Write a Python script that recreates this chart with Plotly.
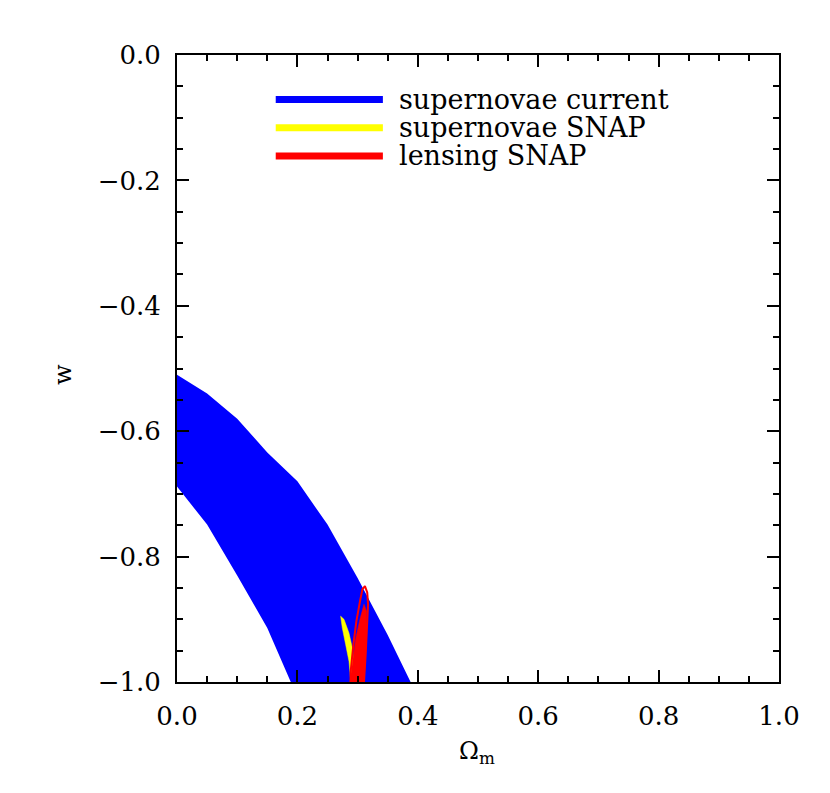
import plotly.graph_objects as go

# Blue band: supernovae current (upper edge then lower edge back)
blue_upper_x = [0.0, 0.05, 0.10, 0.119, 0.15, 0.20, 0.25, 0.30, 0.35, 0.388]
blue_upper_w = [-0.51, -0.54, -0.58, -0.600, -0.634, -0.680, -0.749, -0.834, -0.925, -1.0]
blue_lower_x = [0.189, 0.15, 0.10, 0.05, 0.0]
blue_lower_w = [-1.0, -0.914, -0.830, -0.749, -0.688]

# Yellow: supernovae SNAP
yellow_x = [0.2718, 0.2746, 0.2801, 0.2857, 0.2884, 0.2895, 0.298, 0.2945, 0.2913, 0.2857, 0.2774, 0.2718]
yellow_w = [-0.895, -0.914, -0.940, -0.967, -0.996, -1.0, -1.0, -0.975, -0.946, -0.922, -0.900, -0.895]

# Red: lensing SNAP (filled inner contour)
red_fill_x = [0.3106, 0.304, 0.2968, 0.2913, 0.2873, 0.3106, 0.3122, 0.315, 0.315, 0.3106]
red_fill_w = [-0.876, -0.8995, -0.931, -0.968, -1.0, -1.0, -0.968, -0.924, -0.887, -0.876]

# Red outer contour (outline)
red_line_x = [0.2884, 0.2884, 0.293, 0.298, 0.304, 0.308, 0.3122, 0.316, 0.3174, 0.316, 0.3134, 0.3106]
red_line_w = [-1.0, -0.984, -0.940, -0.903, -0.871, -0.852, -0.847, -0.857, -0.876, -0.914, -0.956, -1.0]

legend_labels = ["supernovae current", "supernovae SNAP", "lensing SNAP"]
legend_colors = ["#0000ff", "#ffff00", "#ff0000"]

x_ticks = [0.0, 0.2, 0.4, 0.6, 0.8, 1.0]
x_ticktext = ["0.0", "0.2", "0.4", "0.6", "0.8", "1.0"]
y_ticks = [0.0, -0.2, -0.4, -0.6, -0.8, -1.0]
y_ticktext = ["0.0", "\u22120.2", "\u22120.4", "\u22120.6", "\u22120.8", "\u22121.0"]

fig = go.Figure()
fig.add_trace(go.Scatter(x=blue_upper_x + blue_lower_x, y=blue_upper_w + blue_lower_w,
                         fill="toself", fillcolor="#0000ff", mode="lines",
                         line=dict(color="#0000ff", width=0), hoverinfo="skip", showlegend=False))
fig.add_trace(go.Scatter(x=yellow_x, y=yellow_w, fill="toself", fillcolor="#ffff00", mode="lines",
                         line=dict(color="#ffff00", width=0.5), hoverinfo="skip", showlegend=False))
fig.add_trace(go.Scatter(x=red_fill_x, y=red_fill_w, fill="toself", fillcolor="#ff0000", mode="lines",
                         line=dict(color="#ff0000", width=0.5), hoverinfo="skip", showlegend=False))
fig.add_trace(go.Scatter(x=red_line_x, y=red_line_w, mode="lines",
                         line=dict(color="#ff0000", width=2), hoverinfo="skip", showlegend=False))

FONT = "DejaVu Serif"
# legend drawn as shapes + annotations in paper coords
leg_y = [0.929, 0.884, 0.839]
for lab, col, yy in zip(legend_labels, legend_colors, leg_y):
    fig.add_shape(type="line", xref="paper", yref="paper", x0=0.164, x1=0.342, y0=yy, y1=yy,
                  line=dict(color=col, width=7))
    fig.add_annotation(xref="paper", yref="paper", x=0.366, y=yy, text=lab, showarrow=False,
                       xanchor="left", yanchor="middle", font=dict(family=FONT, size=27, color="black"))

fig.add_annotation(xref="paper", yref="paper", x=0.498, y=-0.113, text="\u03a9<sub>m</sub>",
                   showarrow=False, xanchor="center", yanchor="middle",
                   font=dict(family=FONT, size=24, color="black"))
fig.add_annotation(xref="paper", yref="paper", x=-0.189, y=0.49, text="w", textangle=-90,
                   showarrow=False, xanchor="center", yanchor="middle",
                   font=dict(family=FONT, size=24, color="black"))

axis_common = dict(showgrid=False, zeroline=False, showline=True, linecolor="black", linewidth=2,
                   mirror="allticks", ticks="inside", ticklen=12, tickwidth=2, tickcolor="black",
                   tickfont=dict(family=FONT, size=26, color="black"),
                   minor=dict(ticks="inside", ticklen=6, tickwidth=2, tickcolor="black", dtick=0.05,
                              showgrid=False))

fig.update_xaxes(range=[0, 1], tickvals=x_ticks, ticktext=x_ticktext, ticklabelstandoff=10, **axis_common)
fig.update_yaxes(range=[-1, 0], tickvals=y_ticks, ticktext=y_ticktext, ticklabelstandoff=9, **axis_common)

fig.update_layout(width=830, height=793, margin=dict(l=169, r=59, t=47, b=119, autoexpand=False),
                  plot_bgcolor="white", paper_bgcolor="white", showlegend=False)

fig.write_html("out.html")
